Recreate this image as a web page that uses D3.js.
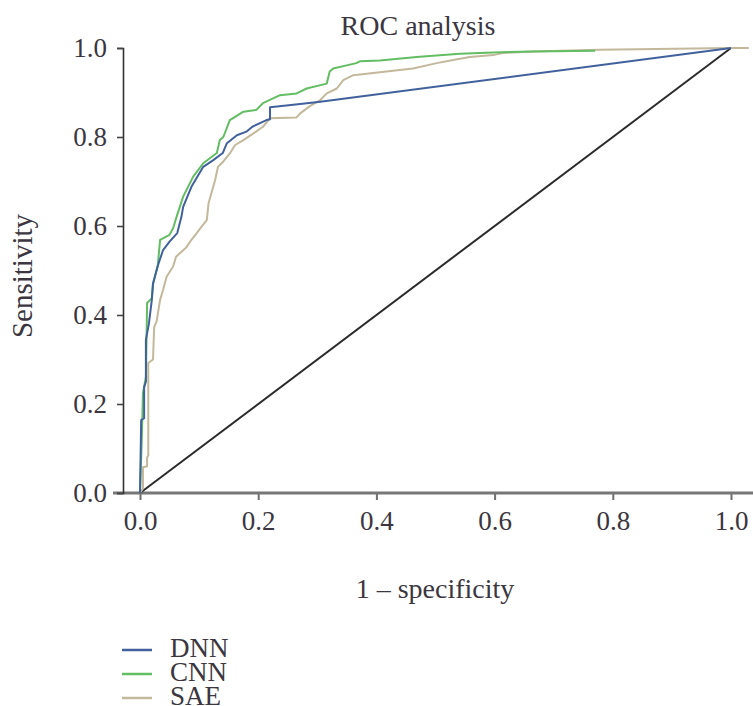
<!DOCTYPE html>
<html>
<head>
<meta charset="utf-8">
<script src="https://cdn.jsdelivr.net/npm/d3@7"></script>
<style>
  body { margin: 0; background: #fff; }
  text { font-family: "Liberation Serif", "DejaVu Serif", serif; fill: #3b3640; }
</style>
</head>
<body>
<div id="chart"></div>
<script>
var svgWidth = 753;
var svgHeight = 706;

// ROC points: [1 - specificity, sensitivity]
var dnnPoints = [
  [0, 0], [0.002, 0.164], [0.007, 0.168], [0.007, 0.238], [0.010, 0.25], [0.010, 0.344],
  [0.015, 0.38], [0.020, 0.434], [0.022, 0.47], [0.030, 0.51], [0.039, 0.546],
  [0.050, 0.565], [0.063, 0.584], [0.070, 0.62], [0.073, 0.643], [0.087, 0.688],
  [0.107, 0.733], [0.124, 0.748], [0.140, 0.764], [0.147, 0.786], [0.164, 0.804],
  [0.180, 0.812], [0.190, 0.823], [0.214, 0.838], [0.220, 0.840], [0.220, 0.867],
  [0.271, 0.874], [0.305, 0.879], [1.0, 1.0]
];
var cnnPoints = [
  [0, 0], [0.003, 0.12], [0.005, 0.225], [0.010, 0.26], [0.012, 0.427], [0.020, 0.438],
  [0.022, 0.47], [0.030, 0.51], [0.034, 0.569], [0.050, 0.58], [0.056, 0.595],
  [0.062, 0.621], [0.073, 0.666], [0.090, 0.711], [0.107, 0.741], [0.130, 0.764],
  [0.135, 0.793], [0.141, 0.80], [0.152, 0.838], [0.175, 0.857], [0.197, 0.861],
  [0.208, 0.876], [0.237, 0.894], [0.265, 0.898], [0.282, 0.909], [0.316, 0.92],
  [0.321, 0.947], [0.327, 0.954], [0.366, 0.966], [0.372, 0.97], [0.406, 0.972],
  [0.468, 0.98], [0.541, 0.987], [0.598, 0.99], [0.665, 0.992], [0.77, 0.994]
];
var saePoints = [
  [0, 0], [0.005, 0.01], [0.005, 0.058], [0.012, 0.06], [0.012, 0.08], [0.014, 0.085],
  [0.014, 0.292], [0.022, 0.30], [0.024, 0.373], [0.028, 0.385], [0.034, 0.434],
  [0.039, 0.456], [0.045, 0.486], [0.056, 0.509], [0.061, 0.531], [0.079, 0.553],
  [0.087, 0.569], [0.096, 0.584], [0.104, 0.598], [0.113, 0.613], [0.116, 0.651],
  [0.127, 0.703], [0.132, 0.733], [0.141, 0.745], [0.152, 0.763], [0.161, 0.782],
  [0.175, 0.793], [0.192, 0.808], [0.208, 0.823], [0.220, 0.842], [0.265, 0.844],
  [0.271, 0.853], [0.288, 0.870], [0.305, 0.883], [0.316, 0.898], [0.333, 0.909],
  [0.344, 0.928], [0.361, 0.939], [0.417, 0.947], [0.462, 0.954], [0.502, 0.966],
  [0.530, 0.973], [0.558, 0.98], [0.598, 0.984], [0.615, 0.989], [0.665, 0.992],
  [0.778, 0.996], [1.0, 1.0], [1.03, 1.0]
];
var chancePoints = [[0, 0], [1, 1]];

var seriesNames = ["DNN", "CNN", "SAE"];
var seriesColors = ["#41619c", "#63bd63", "#c3b89b"];
var tickValues = [0, 0.2, 0.4, 0.6, 0.8, 1.0];

var svg = d3.select("#chart").append("svg")
  .attr("width", svgWidth)
  .attr("height", svgHeight);

var xScale = d3.scaleLinear().domain([0, 1]).range([140, 731]);
var yScale = d3.scaleLinear().domain([0, 1]).range([493, 48]);
var yAxisX = 123;

// x axis (grey, runs past both ends)
var xAxis = svg.append("g")
  .attr("transform", "translate(0," + yScale(0) + ")")
  .call(d3.axisBottom(xScale).tickValues(tickValues).tickFormat(d3.format(".1f")).tickSize(7).tickPadding(11));
xAxis.select(".domain").remove();
xAxis.selectAll(".tick line").attr("stroke", "#6e6e6e").attr("stroke-width", 2);
xAxis.selectAll("text").style("font-size", "27px").attr("fill", "#3b3640");
xAxis.append("line")
  .attr("x1", yAxisX - 10).attr("x2", svgWidth)
  .attr("stroke", "#777").attr("stroke-width", 3);

// y axis
var yAxis = svg.append("g")
  .attr("transform", "translate(" + yAxisX + ",0)")
  .call(d3.axisLeft(yScale).tickValues(tickValues).tickFormat(d3.format(".1f")).tickSize(6).tickSizeOuter(6).tickPadding(10));
yAxis.select(".domain").attr("stroke", "#333").attr("stroke-width", 1.6);
yAxis.selectAll(".tick line").attr("stroke", "#444").attr("stroke-width", 1.6);
yAxis.selectAll("text").style("font-size", "27px").attr("fill", "#3b3640");

var line = d3.line()
  .x(d => xScale(d[0]))
  .y(d => yScale(d[1]));

// reference diagonal
svg.append("path")
  .attr("d", line(chancePoints))
  .attr("fill", "none")
  .attr("stroke", "#2b2b2b")
  .attr("stroke-width", 2);

var allSeries = [saePoints, cnnPoints, dnnPoints];
var drawOrder = [2, 1, 0];
allSeries.forEach(function(pts, i) {
  svg.append("path")
    .attr("d", line(pts))
    .attr("fill", "none")
    .attr("stroke", seriesColors[drawOrder[i]])
    .attr("stroke-width", 2)
    .attr("stroke-linejoin", "round");
});

// title and axis labels
svg.append("text")
  .attr("x", 418).attr("y", 35)
  .attr("text-anchor", "middle")
  .style("font-size", "28px")
  .text("ROC analysis");

svg.append("text")
  .attr("x", 435).attr("y", 598)
  .attr("text-anchor", "middle")
  .style("font-size", "28px")
  .text("1 \u2013 specificity");

svg.append("text")
  .attr("transform", "translate(32,276) rotate(-90)")
  .attr("text-anchor", "middle")
  .style("font-size", "29px")
  .text("Sensitivity");

// legend
var legend = svg.selectAll(".legend")
  .data(seriesNames)
  .enter()
  .append("g")
  .attr("transform", (d, i) => "translate(122," + (650 + i * 24) + ")");
legend.append("line")
  .attr("x1", 0).attr("x2", 30)
  .attr("stroke", (d, i) => seriesColors[i])
  .attr("stroke-width", 2.5);
legend.append("text")
  .attr("x", 48).attr("y", 7)
  .style("font-size", "27px")
  .text(d => d);
</script>
</body>
</html>
